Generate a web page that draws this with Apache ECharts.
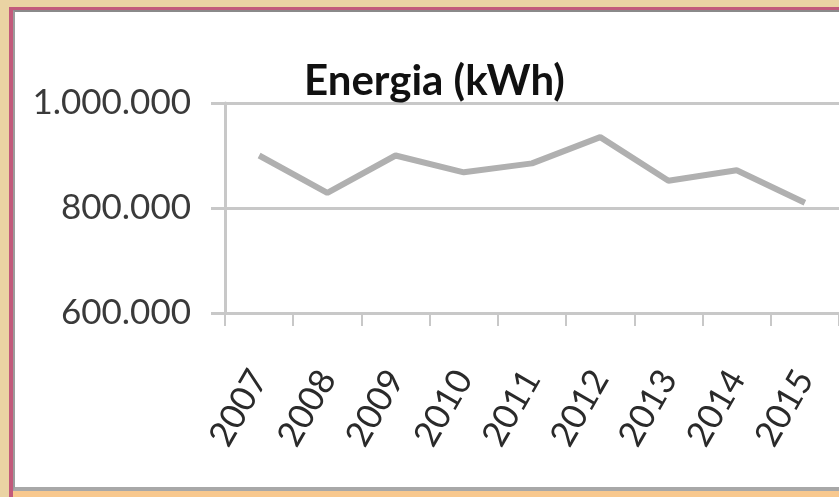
<!DOCTYPE html>
<html>
<head>
<meta charset="utf-8">
<script src="https://cdn.jsdelivr.net/npm/echarts@6/dist/echarts.min.js"></script>
<style>
  html, body { margin: 0; padding: 0; width: 839px; height: 497px; overflow: hidden; }
  body { background: #ead3a3; position: relative; }
  .frame {
    position: absolute; left: 9px; top: 7px; width: 900px; height: 490px;
    border-left: 4px solid #c25a7b; border-top: 3px solid #c25a7b;
    background: #f8c88e;
  }
  .panel {
    position: absolute; left: 0; top: 0; width: 900px; height: 475px;
    border-left: 2px solid #9c9c9c; border-top: 2px solid #8a8a8a;
    border-bottom: 4px solid #a8a8a8; background: #fff;
  }
  #chart { position: absolute; left: 0; top: 0; width: 839px; height: 497px; }
</style>
</head>
<body>
<div class="frame"><div class="panel"></div></div>
<div id="chart"></div>
<script>
// dati
const anni = ["2007", "2008", "2009", "2010", "2011", "2012", "2013", "2014", "2015"];
const energia = [900000, 829000, 900000, 868000, 885000, 935000, 852000, 872000, 810000];
const titolo = "Energia (kWh)";

const font = "Lato, 'Open Sans', sans-serif";
const grigio = "#c8c8c8";

// formato con punto per le migliaia
function migliaia(v) {
  return String(v).replace(/\B(?=(\d{3})+(?!\d))/g, ".");
}

const chart = echarts.init(document.getElementById("chart"), null, { renderer: "canvas" });
chart.setOption({
  backgroundColor: "transparent",
  animation: false,
  title: {
    text: titolo,
    left: 299,
    top: 55,
    textStyle: { fontFamily: font, fontSize: 42, fontWeight: "bold", color: "#111" }
  },
  grid: { left: 225, top: 103, bottom: 184, right: -2, containLabel: false },
  xAxis: {
    type: "category",
    data: anni,
    boundaryGap: true,
    axisLine: { lineStyle: { color: grigio, width: 3 } },
    axisTick: { show: true, length: 13, lineStyle: { color: grigio, width: 2 } },
    axisLabel: {
      rotate: 60,
      margin: 60,
      fontFamily: font,
      fontSize: 35,
      color: "#2a2a2a"
    }
  },
  yAxis: {
    type: "value",
    min: 600000,
    max: 1000000,
    interval: 200000,
    axisLine: { show: true, lineStyle: { color: grigio, width: 3 } },
    axisTick: { show: true, length: 14, lineStyle: { color: grigio, width: 3 } },
    splitLine: { lineStyle: { color: grigio, width: 3 } },
    axisLabel: {
      margin: 34,
      formatter: migliaia,
      fontFamily: font,
      fontSize: 35,
      color: "#3a3a3a"
    }
  },
  series: [{
    name: titolo,
    type: "line",
    data: energia,
    showSymbol: false,
    symbol: "none",
    lineStyle: { color: "#b0b0b0", width: 6 }
  }]
});
</script>
</body>
</html>
